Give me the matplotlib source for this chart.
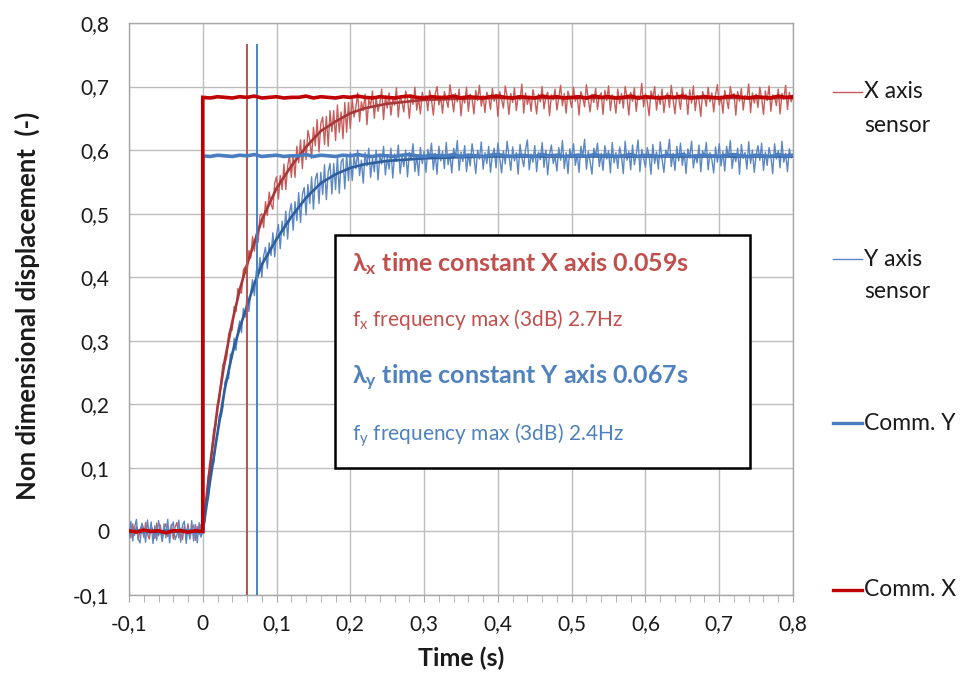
import matplotlib
matplotlib.use("Agg")
import matplotlib.pyplot as plt
from matplotlib.lines import Line2D
from matplotlib.patches import Rectangle
from matplotlib.ticker import FixedLocator
import numpy as np

plt.rcParams['font.family'] = ['Lato', 'DejaVu Sans']
plt.rcParams['mathtext.fontset'] = 'custom'
plt.rcParams['mathtext.rm'] = 'Lato'
plt.rcParams['mathtext.it'] = 'Lato:italic'
plt.rcParams['mathtext.bf'] = 'Lato:bold'

# ---------------- data ----------------
sample_start = -0.1
sample_step = 0.0025

sensor_x = [
    # t = -0.1 .. 0
    0.004, -0.010, 0.012, -0.006, 0.008, -0.013, 0.003, 0.011, -0.009, 0.014,
    -0.004, -0.012, 0.009, 0.002, -0.011, 0.013, -0.007, 0.010, -0.014, 0.006,
    0.012, -0.008, -0.003, 0.011, -0.012, 0.007, 0.014, -0.010, 0.005, -0.013,
    0.009, -0.006, 0.012, -0.011, 0.004, 0.010, -0.014, 0.008, -0.005, 0.011, 0.001,
    # rise
    0.034, 0.051, 0.088, 0.098, 0.132, 0.161, 0.166, 0.200, 0.205, 0.241,
    0.264, 0.264, 0.274, 0.310, 0.319, 0.317, 0.354, 0.346, 0.382, 0.377,
    0.375, 0.412, 0.416, 0.404, 0.442, 0.430, 0.464, 0.441, 0.469, 0.455,
    0.497, 0.500, 0.478, 0.519, 0.497, 0.534, 0.515, 0.507, 0.548, 0.558,
    0.523, 0.560, 0.538, 0.578, 0.538, 0.574, 0.592, 0.557, 0.592, 0.557,
    0.606, 0.580, 0.616, 0.571, 0.616, 0.585, 0.631, 0.617, 0.587, 0.636,
    0.607, 0.648, 0.597, 0.642, 0.652, 0.609, 0.653, 0.606, 0.662, 0.629,
    0.662, 0.615, 0.671, 0.628, 0.660, 0.618, 0.675, 0.628, 0.675, 0.634,
    # steady
    0.681, 0.652, 0.668, 0.690, 0.645, 0.676, 0.662, 0.688, 0.640, 0.679, 0.670, 0.693, 0.650, 0.683, 0.661, 0.674, 0.696, 0.648, 0.685, 0.666,
    0.690, 0.655, 0.680, 0.671, 0.698, 0.652, 0.684, 0.676, 0.660, 0.693, 0.681, 0.650, 0.687, 0.672, 0.699, 0.663, 0.682, 0.657, 0.691, 0.678,
    0.686, 0.662, 0.694, 0.679, 0.655, 0.688, 0.700, 0.671, 0.684, 0.658, 0.692, 0.680, 0.667, 0.703, 0.683, 0.660, 0.689, 0.676, 0.696, 0.654,
    0.685, 0.674, 0.699, 0.661, 0.688, 0.681, 0.657, 0.694, 0.678, 0.702, 0.669, 0.686, 0.659, 0.691, 0.683, 0.664, 0.697, 0.677, 0.688, 0.653,
    0.692, 0.680, 0.666, 0.701, 0.684, 0.656, 0.689, 0.675, 0.698, 0.662, 0.686, 0.679, 0.704, 0.658, 0.690, 0.672, 0.685, 0.661, 0.695, 0.681,
    0.657, 0.688, 0.676, 0.700, 0.665, 0.684, 0.691, 0.654, 0.687, 0.679, 0.696, 0.663, 0.683, 0.702, 0.670, 0.689, 0.658, 0.693, 0.681, 0.667,
    0.699, 0.677, 0.686, 0.655, 0.692, 0.683, 0.668, 0.703, 0.680, 0.660, 0.688, 0.675, 0.697, 0.664, 0.685, 0.690, 0.656, 0.694, 0.678, 0.701,
    0.662, 0.687, 0.681, 0.658, 0.696, 0.673, 0.689, 0.666, 0.700, 0.684, 0.655, 0.691, 0.677, 0.698, 0.661, 0.686, 0.680, 0.705, 0.668, 0.689,
    0.676, 0.654, 0.693, 0.682, 0.700, 0.663, 0.687, 0.672, 0.696, 0.659, 0.684, 0.690, 0.667, 0.702, 0.679, 0.657, 0.691, 0.683, 0.664, 0.698,
    0.680, 0.688, 0.656, 0.695, 0.674, 0.701, 0.662, 0.686, 0.679, 0.653, 0.692, 0.684, 0.669, 0.699, 0.676, 0.690, 0.660, 0.687, 0.703, 0.671,
    0.685, 0.658, 0.694, 0.680, 0.665, 0.700, 0.683, 0.689, 0.655, 0.692, 0.677, 0.697, 0.663, 0.686, 0.681, 0.704, 0.659, 0.690, 0.674, 0.688,
    0.667, 0.699, 0.682, 0.656, 0.693, 0.678, 0.701, 0.661, 0.687, 0.684, 0.670, 0.696, 0.657, 0.689, 0.680, 0.702, 0.664, 0.691, 0.676, 0.686,
]

sensor_y = [
    # t = -0.1 .. 0
    -0.008, 0.016, -0.015, 0.006, 0.019, -0.012, -0.018, 0.013, 0.004, -0.017,
    0.018, -0.006, 0.015, -0.019, 0.009, -0.014, 0.017, 0.002, -0.016, 0.012,
    -0.010, 0.019, -0.018, 0.007, 0.015, -0.013, -0.005, 0.018, -0.017, 0.010,
    0.016, -0.019, 0.006, -0.012, 0.017, -0.015, 0.011, -0.018, 0.014, -0.009, 0.000,
    # rise
    0.015, 0.047, 0.051, 0.084, 0.107, 0.108, 0.143, 0.152, 0.184, 0.181,
    0.196, 0.235, 0.242, 0.240, 0.279, 0.273, 0.304, 0.285, 0.316, 0.331,
    0.313, 0.351, 0.337, 0.371, 0.346, 0.376, 0.396, 0.371, 0.410, 0.399,
    0.431, 0.400, 0.434, 0.447, 0.414, 0.454, 0.434, 0.470, 0.432, 0.467,
    0.483, 0.445, 0.488, 0.465, 0.504, 0.460, 0.501, 0.516, 0.474, 0.519,
    0.489, 0.533, 0.486, 0.530, 0.541, 0.498, 0.546, 0.516, 0.558, 0.507,
    0.554, 0.564, 0.516, 0.565, 0.530, 0.577, 0.522, 0.566, 0.579, 0.531,
    0.579, 0.538, 0.590, 0.532, 0.581, 0.587, 0.539, 0.593, 0.552, 0.596,
    # steady
    0.552, 0.590, 0.571, 0.600, 0.560, 0.584, 0.548, 0.596, 0.575, 0.603, 0.557, 0.587, 0.566, 0.600, 0.553, 0.592, 0.578, 0.606, 0.561, 0.589,
    0.570, 0.603, 0.556, 0.594, 0.582, 0.608, 0.563, 0.590, 0.574, 0.600, 0.558, 0.596, 0.585, 0.610, 0.566, 0.592, 0.560, 0.604, 0.579, 0.598,
    0.565, 0.601, 0.588, 0.611, 0.569, 0.595, 0.562, 0.606, 0.583, 0.598, 0.571, 0.612, 0.577, 0.593, 0.564, 0.603, 0.589, 0.615, 0.568, 0.597,
    0.582, 0.607, 0.566, 0.594, 0.575, 0.610, 0.590, 0.563, 0.600, 0.586, 0.613, 0.570, 0.596, 0.579, 0.606, 0.565, 0.592, 0.603, 0.572, 0.611,
    0.587, 0.564, 0.599, 0.578, 0.614, 0.591, 0.568, 0.605, 0.583, 0.596, 0.562, 0.609, 0.588, 0.574, 0.601, 0.616, 0.569, 0.594, 0.581, 0.607,
    0.566, 0.597, 0.585, 0.612, 0.573, 0.600, 0.561, 0.593, 0.608, 0.579, 0.590, 0.567, 0.604, 0.584, 0.615, 0.571, 0.596, 0.563, 0.602, 0.588,
    0.610, 0.576, 0.594, 0.565, 0.606, 0.589, 0.617, 0.570, 0.598, 0.582, 0.562, 0.603, 0.591, 0.611, 0.574, 0.595, 0.568, 0.607, 0.586, 0.599,
    0.564, 0.612, 0.580, 0.596, 0.571, 0.605, 0.590, 0.563, 0.614, 0.584, 0.598, 0.569, 0.608, 0.577, 0.593, 0.616, 0.566, 0.601, 0.587, 0.573,
    0.604, 0.591, 0.562, 0.609, 0.579, 0.597, 0.570, 0.613, 0.586, 0.565, 0.600, 0.592, 0.617, 0.574, 0.595, 0.568, 0.606, 0.583, 0.611, 0.576,
    0.597, 0.563, 0.602, 0.588, 0.614, 0.572, 0.593, 0.580, 0.608, 0.566, 0.599, 0.590, 0.612, 0.569, 0.596, 0.585, 0.564, 0.605, 0.581, 0.610,
    0.575, 0.598, 0.567, 0.606, 0.589, 0.615, 0.571, 0.594, 0.582, 0.603, 0.562, 0.609, 0.587, 0.596, 0.570, 0.613, 0.579, 0.600, 0.565, 0.592,
    0.607, 0.584, 0.611, 0.568, 0.597, 0.576, 0.604, 0.590, 0.563, 0.610, 0.586, 0.599, 0.572, 0.614, 0.581, 0.595, 0.566, 0.602, 0.588, 0.593,
]

trend_t = [0.0, 0.01, 0.02, 0.03, 0.04, 0.05, 0.06, 0.07, 0.08, 0.09, 0.10,
           0.12, 0.14, 0.16, 0.18, 0.20, 0.22, 0.25, 0.30, 0.35, 0.40, 0.50, 0.60, 0.70, 0.80]
trend_x = [0.0, 0.105, 0.195, 0.27, 0.33, 0.38, 0.42, 0.455, 0.49, 0.515, 0.54,
           0.575, 0.605, 0.63, 0.645, 0.658, 0.666, 0.673, 0.679, 0.681, 0.682, 0.682, 0.682, 0.682, 0.682]
trend_y = [0.0, 0.08, 0.155, 0.225, 0.28, 0.32, 0.355, 0.39, 0.42, 0.44, 0.46,
           0.495, 0.525, 0.548, 0.562, 0.572, 0.578, 0.583, 0.587, 0.589, 0.59, 0.59, 0.59, 0.59, 0.59]

comm_step = 0.01
comm_x_pre = [0.001, -0.001, 0.002, 0.0, 0.001, -0.002, 0.001, 0.001, -0.001, 0.001, 0.0]
comm_y_pre = [-0.001, 0.001, -0.001, 0.001, -0.002, 0.001, 0.0, 0.001, 0.001, -0.001, 0.0]
comm_x_post = [
    0.683, 0.682, 0.684, 0.683, 0.682, 0.684, 0.683, 0.685, 0.682, 0.683,
    0.684, 0.682, 0.683, 0.683, 0.685, 0.682, 0.684, 0.683, 0.682, 0.684,
    0.683, 0.685, 0.683, 0.682, 0.684, 0.683, 0.682, 0.684, 0.685, 0.683,
    0.682, 0.684, 0.683, 0.683, 0.685, 0.682, 0.684, 0.683, 0.682, 0.684,
    0.685, 0.683, 0.682, 0.684, 0.683, 0.682, 0.685, 0.683, 0.684, 0.682,
    0.683, 0.684, 0.682, 0.685, 0.683, 0.684, 0.682, 0.683, 0.685, 0.682,
    0.684, 0.683, 0.682, 0.684, 0.683, 0.685, 0.682, 0.683, 0.684, 0.683,
    0.682, 0.684, 0.685, 0.683, 0.682, 0.684, 0.683, 0.682, 0.685, 0.683, 0.684,
]
comm_y_post = [
    0.591, 0.590, 0.592, 0.591, 0.590, 0.592, 0.591, 0.593, 0.590, 0.591,
    0.592, 0.590, 0.591, 0.591, 0.593, 0.590, 0.592, 0.591, 0.590, 0.592,
    0.591, 0.593, 0.591, 0.590, 0.592, 0.591, 0.590, 0.592, 0.593, 0.591,
    0.590, 0.592, 0.591, 0.591, 0.593, 0.590, 0.592, 0.591, 0.590, 0.592,
    0.593, 0.591, 0.590, 0.592, 0.591, 0.590, 0.593, 0.591, 0.592, 0.590,
    0.591, 0.592, 0.590, 0.593, 0.591, 0.592, 0.590, 0.591, 0.593, 0.590,
    0.592, 0.591, 0.590, 0.592, 0.591, 0.593, 0.590, 0.591, 0.592, 0.591,
    0.590, 0.592, 0.593, 0.591, 0.590, 0.592, 0.591, 0.590, 0.593, 0.591, 0.592,
]

tau_x = 0.060
tau_y = 0.074
tau_line_top = 0.766

x_ticks = [-0.1, 0.0, 0.1, 0.2, 0.3, 0.4, 0.5, 0.6, 0.7, 0.8]
x_ticklabels = ['-0,1', '0', '0,1', '0,2', '0,3', '0,4', '0,5', '0,6', '0,7', '0,8']
y_ticks = [-0.1, 0.0, 0.1, 0.2, 0.3, 0.4, 0.5, 0.6, 0.7, 0.8]
y_ticklabels = ['-0,1', '0', '0,1', '0,2', '0,3', '0,4', '0,5', '0,6', '0,7', '0,8']

legend_labels = ['X axis\nsensor', 'Y axis\nsensor', 'Comm. Y', 'Comm. X']

# ---------------- colours ----------------
c_sens_x = '#C75E5B'
c_trend_x = '#A8373A'
c_comm_x = '#C00000'
c_sens_y = '#5B88C4'
c_trend_y = '#2E5E9C'
c_comm_y = '#4A7CC0'
c_grid = '#BDBDBD'
c_text = '#1a1a1a'

W, H = 963, 673
fig = plt.figure(figsize=(W / 100, H / 100), dpi=100)
ax = fig.add_axes([129 / W, 1 - 595 / H, (793 - 129) / W, (595 - 23) / H])

t_s = sample_start + sample_step * np.arange(len(sensor_x))
t_cpre = sample_start + comm_step * np.arange(len(comm_x_pre))
t_cpost = comm_step * np.arange(len(comm_x_post))
comm_t = np.concatenate([t_cpre, t_cpost])
comm_x = comm_x_pre + comm_x_post
comm_y = comm_y_pre + comm_y_post

ax.plot(t_s, sensor_x, color=c_sens_x, lw=1.0, zorder=3)
ax.plot(t_s, sensor_y, color=c_sens_y, lw=1.0, zorder=3)
ax.plot(trend_t, trend_x, color=c_trend_x, lw=1.9, zorder=4)
ax.plot(trend_t, trend_y, color=c_trend_y, lw=1.9, zorder=4)
ax.plot([tau_x, tau_x], [-0.1, tau_line_top], color='#C0504D', lw=1.4, zorder=5)
ax.plot([tau_y, tau_y], [-0.1, tau_line_top], color='#4F81BD', lw=1.4, zorder=5)
ax.plot(comm_t, comm_y, color=c_comm_y, lw=2.6, zorder=6, solid_joinstyle='miter')
ax.plot(comm_t, comm_x, color=c_comm_x, lw=2.6, zorder=7, solid_joinstyle='miter')

ax.set_xlim(-0.1, 0.8)
ax.set_ylim(-0.1, 0.8)
ax.xaxis.set_major_locator(FixedLocator(x_ticks))
ax.set_xticklabels(x_ticklabels)
ax.yaxis.set_major_locator(FixedLocator(y_ticks))
ax.set_yticklabels(y_ticklabels)
ax.xaxis.set_minor_locator(FixedLocator(np.arange(-0.1, 0.8001, 0.02)))
ax.grid(True, which='major', color=c_grid, lw=1.0, zorder=0)
ax.set_axisbelow(True)
for s in ax.spines.values():
    s.set_color('#A6A6A6')
    s.set_linewidth(1.0)
ax.tick_params(axis='x', which='both', direction='out', length=5, color='#A6A6A6',
               labelsize=15, pad=9, labelcolor=c_text)
ax.tick_params(axis='y', which='both', length=0, labelsize=15, pad=14, labelcolor=c_text)

fig.text(461 / W, 1 - 658 / H, 'Time (s)', fontsize=18, fontweight='bold',
         ha='center', va='center', color=c_text)
fig.text(27 / W, 1 - 306 / H, 'Non dimensional displacement  (-)', rotation=90,
         fontsize=18.5, fontweight='bold', ha='center', va='center', color=c_text)

# text box
box = Rectangle((0.310, 0.222), 0.625, 0.407, transform=ax.transAxes,
                facecolor='white', edgecolor='black', lw=1.8, zorder=10)
ax.add_patch(box)
ax.text(0.336, 0.580, r'$\mathbf{\lambda_x}$ time constant X axis 0.059s', transform=ax.transAxes,
        color='#C0504D', fontsize=18, fontweight='bold', va='center', ha='left', zorder=11)
ax.text(0.336, 0.481, r'$\mathrm{f_x}$ frequency max (3dB) 2.7Hz', transform=ax.transAxes,
        color='#C0504D', fontsize=15, va='center', ha='left', zorder=11)
ax.text(0.336, 0.379, r'$\mathbf{\lambda_y}$ time constant Y axis 0.067s', transform=ax.transAxes,
        color='#4F81BD', fontsize=18, fontweight='bold', va='center', ha='left', zorder=11)
ax.text(0.336, 0.280, r'$\mathrm{f_y}$ frequency max (3dB) 2.4Hz', transform=ax.transAxes,
        color='#4F81BD', fontsize=15, va='center', ha='left', zorder=11)

# legend (manual)
leg_colors = [c_sens_x, c_sens_y, c_comm_y, c_comm_x]
leg_lw = [1.0, 1.0, 2.4, 2.4]
leg_y = [92, 259, 423, 590]
for lab, col, lw, yy in zip(legend_labels, leg_colors, leg_lw, leg_y):
    fig.add_artist(Line2D([833 / W, 862 / W], [1 - yy / H, 1 - yy / H], color=col, lw=lw))
    for k, line in enumerate(lab.split('\n')):
        fig.text(864 / W, 1 - (yy + 33 * k) / H, line, fontsize=16.5, va='center',
                 ha='left', color=c_text)

fig.savefig('out.png', dpi=100)
